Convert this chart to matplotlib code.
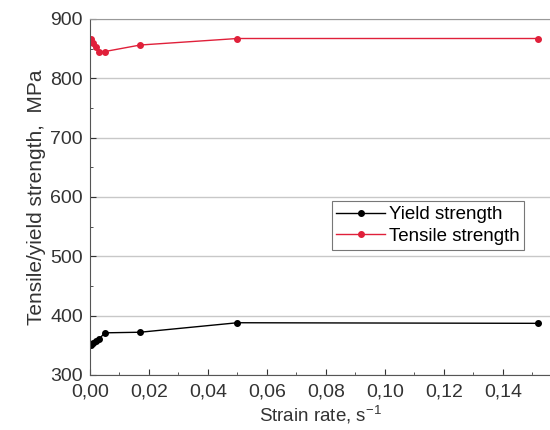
import numpy as np
import matplotlib
matplotlib.use("Agg")
from matplotlib import pyplot as plt
from matplotlib.ticker import MultipleLocator, FuncFormatter

plt.rcParams['font.family'] = ['Liberation Sans', 'DejaVu Sans']
plt.rcParams['mathtext.fontset'] = 'custom'
plt.rcParams['mathtext.rm'] = 'Liberation Sans'

# data
rate = [0.0003, 0.001, 0.002, 0.003, 0.005, 0.017, 0.050, 0.152]
yield_strength = [350, 354, 357, 360, 371, 372, 388, 387]
tensile_strength = [866, 860, 852, 845, 845, 856, 867, 867]

fig = plt.figure(figsize=(5.5, 4.3), dpi=100)
ax = fig.add_axes([0.1636, 0.128, 0.8364, 0.828])

ax.plot(rate, yield_strength, '-o', color='black', lw=1, ms=4, label='Yield strength')
ax.plot(rate, tensile_strength, '-o', color='#e0203a', lw=1, ms=4, label='Tensile strength')

ax.set_xlim(0, 0.156)
ax.set_ylim(300, 900)
ax.xaxis.set_major_locator(MultipleLocator(0.02))
ax.xaxis.set_minor_locator(MultipleLocator(0.01))
ax.yaxis.set_major_locator(MultipleLocator(100))
ax.yaxis.set_minor_locator(MultipleLocator(50))
ax.xaxis.set_major_formatter(FuncFormatter(lambda v, p: f"{v:.2f}".replace('.', ',')))
ax.tick_params(which='both', direction='in', labelsize=14, colors='#333333')
ax.tick_params(which='major', length=4)
ax.tick_params(which='minor', length=2)
ax.tick_params(axis='x', pad=6)
ax.tick_params(axis='y', pad=5)

ax.grid(axis='y', color='#c8c8c8', lw=1)
ax.set_axisbelow(True)
ax.spines['right'].set_visible(False)
ax.spines['top'].set_color('#999999')
ax.spines['left'].set_color('#555555')
ax.spines['bottom'].set_color('#555555')

ax.set_xlabel('Strain rate, s$^{\\mathrm{-1}}$', fontsize=13.5, color='#333333', labelpad=2)
ax.set_ylabel('Tensile/yield strength,  MPa', fontsize=15, color='#333333', labelpad=3)

leg = ax.legend(loc='center left', bbox_to_anchor=(0.505, 0.42), fontsize=13.5,
                frameon=True, fancybox=False, edgecolor='#555555',
                handlelength=2.6, borderpad=0.25, labelspacing=0.25, handletextpad=0.2)
leg.get_frame().set_linewidth(0.8)

fig.savefig('out.png', dpi=100)
